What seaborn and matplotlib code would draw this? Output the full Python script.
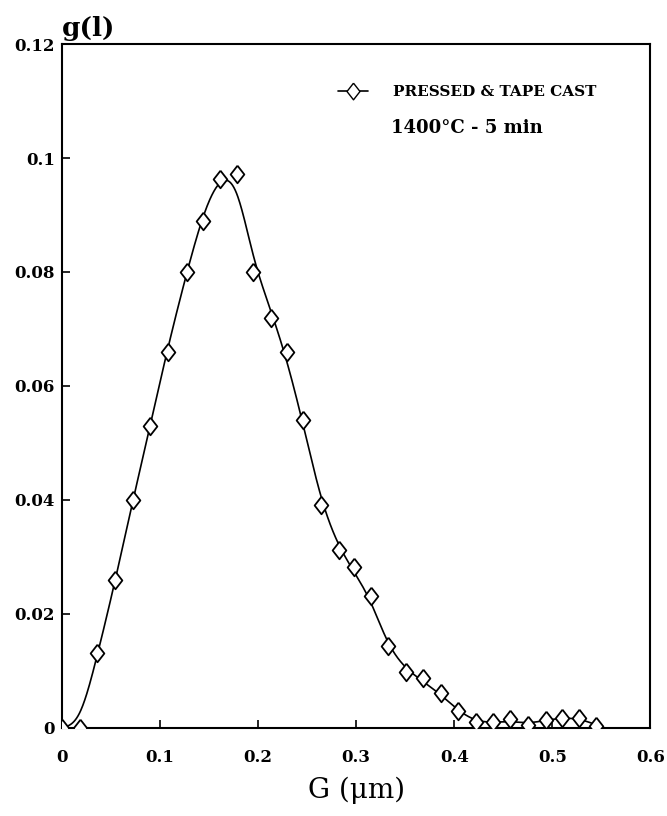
import numpy as np
import pandas as pd
import matplotlib
matplotlib.use("Agg")
import matplotlib.pyplot as plt
from matplotlib.lines import Line2D
import seaborn as sns

# grain size classes (um) and measured frequency g(l)
grain_size = [0.0, 0.018, 0.036, 0.054, 0.072, 0.090, 0.108, 0.127, 0.144, 0.161,
              0.178, 0.195, 0.213, 0.229, 0.246, 0.264, 0.282, 0.298, 0.315, 0.332,
              0.351, 0.368, 0.386, 0.404, 0.422, 0.440, 0.457, 0.475, 0.494, 0.510,
              0.527, 0.545]
frequency = [0.0, 0.0, 0.0132, 0.026, 0.040, 0.053, 0.066, 0.080, 0.089, 0.0963,
             0.0972, 0.080, 0.072, 0.066, 0.0541, 0.0391, 0.0312, 0.0283, 0.0232, 0.0143,
             0.0098, 0.0088, 0.0062, 0.0030, 0.0010, 0.0011, 0.0015, 0.0005, 0.0014, 0.0017,
             0.0018, 0.0003]

x_ticks = [0, 0.1, 0.2, 0.3, 0.4, 0.5, 0.6]
x_tick_labels = ["0", "0.1", "0.2", "0.3", "0.4", "0.5", "0.6"]
y_ticks = [0, 0.02, 0.04, 0.06, 0.08, 0.10, 0.12]
y_tick_labels = ["0", "0.02", "0.04", "0.06", "0.08", "0.1", "0.12"]

series_label = "PRESSED & TAPE CAST"
condition_label = "1400°C - 5 min"

df = pd.DataFrame({"G": grain_size, "g": frequency})


def whittaker(y, lam):
    # light smoothing with a second-difference penalty
    n = len(y)
    D = np.diff(np.eye(n), 2, axis=0)
    return np.linalg.solve(np.eye(n) + lam * D.T @ D, y)


def natural_spline(x, y, xs):
    x = np.asarray(x); y = np.asarray(y)
    n = len(x)
    h = np.diff(x)
    A = np.zeros((n, n)); b = np.zeros(n)
    A[0, 0] = A[-1, -1] = 1
    for i in range(1, n - 1):
        A[i, i - 1] = h[i - 1]
        A[i, i] = 2 * (h[i - 1] + h[i])
        A[i, i + 1] = h[i]
        b[i] = 6 * ((y[i + 1] - y[i]) / h[i] - (y[i] - y[i - 1]) / h[i - 1])
    M = np.linalg.solve(A, b)
    idx = np.clip(np.searchsorted(x, xs) - 1, 0, n - 2)
    x0, x1 = x[idx], x[idx + 1]
    hh = x1 - x0
    t0 = x1 - xs; t1 = xs - x0
    return (M[idx] * t0**3 / (6 * hh) + M[idx + 1] * t1**3 / (6 * hh)
            + (y[idx] / hh - M[idx] * hh / 6) * t0
            + (y[idx + 1] / hh - M[idx + 1] * hh / 6) * t1)


smooth_y = whittaker(df["g"].values, 0.3)
smooth_y[0] = 0.0
xs = np.linspace(df["G"].min(), df["G"].max(), 800)
ys = np.clip(natural_spline(df["G"].values, smooth_y, xs), 0, None)
curve = pd.DataFrame({"G": xs, "g": ys})

sns.set_style("ticks")
plt.rcParams["font.family"] = ["DejaVu Serif"]
for key in ["text.color", "axes.labelcolor", "xtick.color", "ytick.color", "axes.edgecolor"]:
    plt.rcParams[key] = "black"

fig = plt.figure(figsize=(6.67, 8.16), dpi=100)
ax = fig.add_axes([0.093, 0.108, 0.882, 0.838])

diamond = [(0, 1), (0.78, 0), (0, -1), (-0.78, 0), (0, 1)]

sns.lineplot(data=curve, x="G", y="g", ax=ax, color="black", lw=1.2, sort=False)
sns.scatterplot(data=df, x="G", y="g", ax=ax, marker=diamond, s=160,
                facecolor="white", edgecolor="black", linewidth=1.3, zorder=3)

ax.set_xlim(0, 0.6)
ax.set_ylim(0, 0.12)
ax.set_xticks(x_ticks)
ax.set_xticklabels(x_tick_labels, fontweight="bold", fontsize=12)
ax.set_yticks(y_ticks)
ax.set_yticklabels(y_tick_labels, fontweight="bold", fontsize=12)
ax.tick_params(direction="in", length=6, width=1.2)
ax.tick_params(axis="x", pad=15)
ax.tick_params(axis="y", pad=5)
for s in ax.spines.values():
    s.set_linewidth(1.5)

ax.set_xlabel("G (μm)", fontsize=20, labelpad=8)
ax.set_ylabel("")
ax.text(0.0, 1.004, "g(l)", transform=ax.transAxes, fontsize=19,
        fontweight="bold", ha="left", va="bottom")

handle = Line2D([], [], color="black", lw=1.2, marker=diamond, markersize=12,
                markerfacecolor="white", markeredgecolor="black")
ax.legend([handle], [series_label], loc="upper left", bbox_to_anchor=(0.445, 0.96),
          frameon=False, handlelength=2.0, handletextpad=1.6,
          prop={"family": "DejaVu Serif", "weight": "bold", "size": 11})
ax.text(0.56, 0.877, condition_label, transform=ax.transAxes, fontsize=13,
        fontweight="bold", ha="left", va="center")

fig.savefig("out.png", dpi=100)
